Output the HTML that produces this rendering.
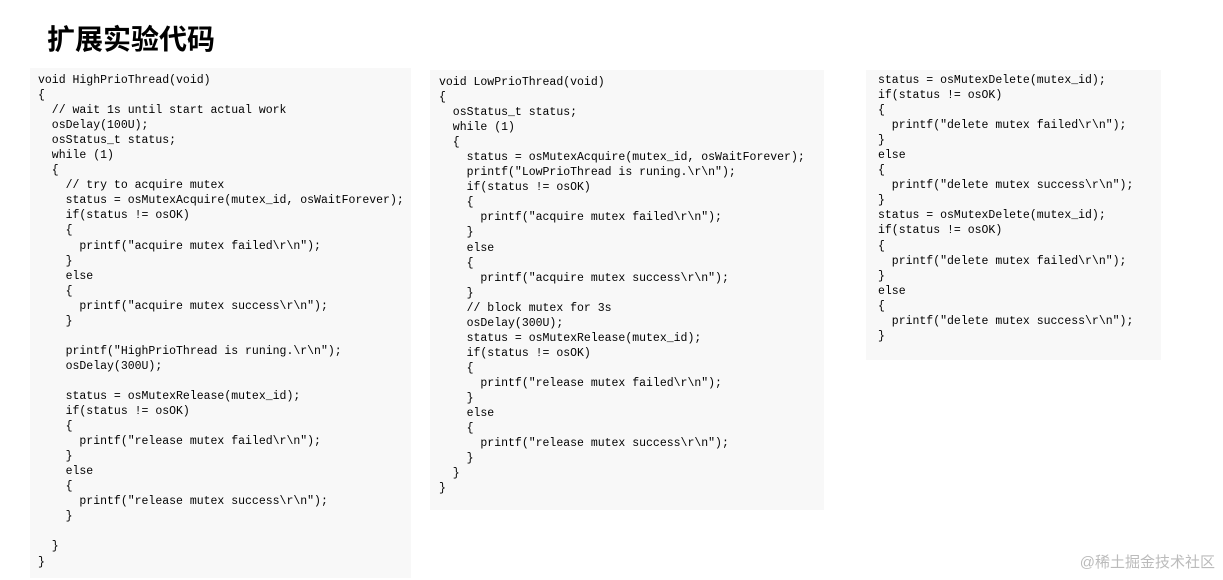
<!DOCTYPE html>
<html><head><meta charset="utf-8"><style>
body{margin:0;width:1223px;height:580px;background:#fff;position:relative;overflow:hidden}
.t{position:absolute;left:47px;top:18px;font:bold 28px "Liberation Sans","Noto Sans CJK SC",sans-serif;color:#000}
.p{position:absolute;background:#f8f8f8}
pre{position:absolute;margin:0;font:11.5px/15.05px "Liberation Mono",monospace;color:#000}
.w{position:absolute;right:8px;top:551px;font:15px "Liberation Sans","Noto Sans CJK SC",sans-serif;color:#bbb}
</style></head><body>
<div class="t">扩展实验代码</div>
<div class="p" style="left:30px;top:68px;width:381px;height:510px"></div>
<div class="p" style="left:430px;top:70px;width:394px;height:440px"></div>
<div class="p" style="left:866px;top:70px;width:295px;height:290px"></div>
<pre style="left:38px;top:73px">void HighPrioThread(void)
{
  // wait 1s until start actual work
  osDelay(100U);
  osStatus_t status;
  while (1)
  {
    // try to acquire mutex
    status = osMutexAcquire(mutex_id, osWaitForever);
    if(status != osOK)
    {
      printf("acquire mutex failed\r\n");
    }
    else
    {
      printf("acquire mutex success\r\n");
    }

    printf("HighPrioThread is runing.\r\n");
    osDelay(300U);

    status = osMutexRelease(mutex_id);
    if(status != osOK)
    {
      printf("release mutex failed\r\n");
    }
    else
    {
      printf("release mutex success\r\n");
    }

  }
}</pre>
<pre style="left:439px;top:75px">void LowPrioThread(void)
{
  osStatus_t status;
  while (1)
  {
    status = osMutexAcquire(mutex_id, osWaitForever);
    printf("LowPrioThread is runing.\r\n");
    if(status != osOK)
    {
      printf("acquire mutex failed\r\n");
    }
    else
    {
      printf("acquire mutex success\r\n");
    }
    // block mutex for 3s
    osDelay(300U);
    status = osMutexRelease(mutex_id);
    if(status != osOK)
    {
      printf("release mutex failed\r\n");
    }
    else
    {
      printf("release mutex success\r\n");
    }
  }
}</pre>
<pre style="left:878px;top:73px">status = osMutexDelete(mutex_id);
if(status != osOK)
{
  printf("delete mutex failed\r\n");
}
else
{
  printf("delete mutex success\r\n");
}
status = osMutexDelete(mutex_id);
if(status != osOK)
{
  printf("delete mutex failed\r\n");
}
else
{
  printf("delete mutex success\r\n");
}</pre>
<div class="w">@稀土掘金技术社区</div>
</body></html>
